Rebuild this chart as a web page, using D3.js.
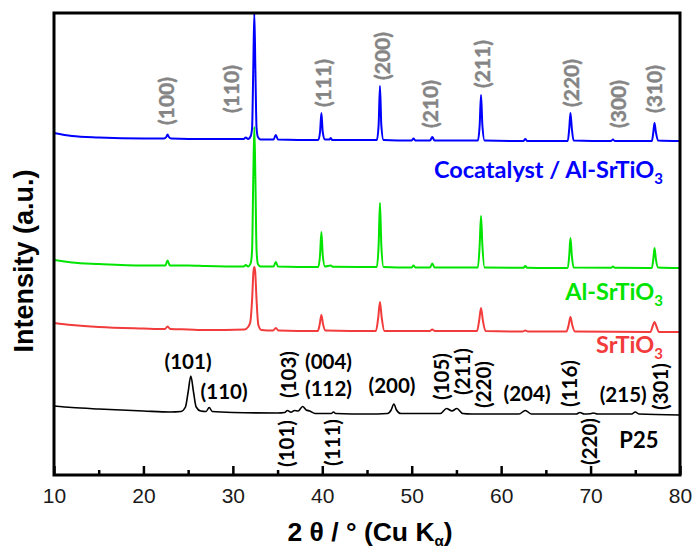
<!DOCTYPE html>
<html>
<head>
<meta charset="utf-8">
<script src="https://cdn.jsdelivr.net/npm/d3@7"></script>
<style>
  body { margin: 0; background: #fff; }
  svg { display: block; }
</style>
</head>
<body>
<svg id="chart" width="694" height="550"></svg>
<script>
// ---- XRD patterns: [2θ (deg), counts (a.u.)] before stacking ----
const patternP25 = [
  [10, 90], [12, 75], [15, 60], [20, 40], [23, 30], [24.2, 35], [24.7, 80], [25.0, 230],
  [25.3, 390], [25.6, 230], [25.9, 80], [26.4, 40], [27.0, 35], [27.35, 75], [27.7, 35],
  [30, 25], [35, 20], [35.8, 25], [36.1, 45], [36.5, 28], [36.9, 45], [37.3, 40],
  [37.8, 85], [38.2, 50], [38.6, 40], [39.2, 15], [41.0, 15], [41.25, 30], [41.5, 15],
  [45, 10], [47.3, 15], [47.7, 50], [48.0, 110], [48.3, 50], [48.8, 15], [53.2, 15],
  [53.9, 65], [54.5, 40], [55.05, 65], [55.7, 15], [56.7, 10], [62.0, 10], [62.7, 45],
  [63.4, 10], [68.4, 10], [68.8, 25], [69.3, 10], [69.9, 12], [70.3, 20], [70.8, 10],
  [74.6, 10], [75.0, 30], [75.4, 10], [80, 0]
];
const patternSrTiO3 = [
  [10, 90], [12, 70], [15, 50], [20, 35], [22.4, 30], [22.7, 55], [23.0, 30], [25, 25],
  [27, 20], [31.3, 25], [31.7, 50], [31.95, 100], [32.15, 320], [32.3, 600], [32.4, 650],
  [32.5, 600], [32.65, 320], [32.85, 70], [33.2, 20], [34.5, 15], [34.8, 40], [35.1, 15],
  [39.5, 10], [39.72, 80], [39.9, 170], [40.08, 80], [40.35, 15], [46.0, 10], [46.25, 140],
  [46.45, 300], [46.65, 140], [46.95, 10], [52.0, 10], [52.3, 25], [52.6, 10], [57.3, 10],
  [57.55, 120], [57.75, 240], [57.95, 120], [58.25, 10], [62.4, 5], [62.7, 15], [63.0, 5],
  [67.3, 5], [67.55, 70], [67.75, 150], [67.95, 70], [68.25, 5], [76.7, 0], [76.95, 60],
  [77.15, 100], [77.35, 60], [77.65, 0], [80, 0]
];
const patternAlSrTiO3 = [
  [10, 80], [12, 55], [15, 40], [20, 25], [22.45, 25], [22.7, 75], [22.95, 25], [25, 25],
  [27, 20], [31.2, 15], [31.45, 30], [31.7, 15], [32.0, 50], [32.15, 180], [32.28, 880],
  [32.4, 1410], [32.52, 880], [32.65, 180], [32.8, 40], [33.1, 15], [34.55, 15], [34.8, 60],
  [35.05, 15], [39.55, 10], [39.75, 130], [39.9, 360], [40.05, 130], [40.3, 15], [40.95, 25],
  [41.2, 12], [46.1, 10], [46.3, 230], [46.45, 650], [46.6, 230], [46.85, 10], [50.0, 5],
  [50.2, 25], [50.4, 5], [52.05, 5], [52.3, 45], [52.55, 5], [57.4, 5], [57.6, 230],
  [57.75, 520], [57.9, 230], [58.15, 5], [62.5, 2], [62.7, 20], [62.9, 2], [67.45, 0],
  [67.62, 130], [67.75, 300], [67.9, 130], [68.1, 5], [72.3, 2], [72.5, 15], [72.7, 2],
  [76.85, 0], [77.02, 90], [77.15, 200], [77.3, 90], [77.55, 5], [80, 0]
];
const patternCocatalyst = [
  [10, 80], [12, 50], [15, 35], [20, 25], [22.3, 25], [22.55, 40], [22.7, 65], [22.85, 40],
  [23.1, 25], [27, 20], [31.2, 20], [31.45, 35], [31.7, 20], [32.0, 50], [32.15, 130],
  [32.28, 710], [32.4, 1280], [32.52, 710], [32.65, 130], [32.8, 40], [33.1, 15], [34.55, 15],
  [34.8, 60], [35.05, 15], [39.55, 10], [39.75, 90], [39.9, 280], [40.05, 90], [40.3, 15],
  [40.8, 15], [40.95, 30], [41.1, 10], [46.1, 10], [46.3, 160], [46.45, 550], [46.6, 160],
  [46.85, 10], [50.0, 5], [50.2, 25], [50.4, 5], [52.05, 5], [52.3, 40], [52.55, 5],
  [57.4, 5], [57.6, 160], [57.75, 460], [57.9, 160], [58.15, 5], [62.5, 0], [62.7, 20],
  [62.9, 0], [67.45, 0], [67.62, 130], [67.75, 280], [67.9, 130], [68.1, 5], [72.3, 0],
  [72.5, 15], [72.7, 0], [76.85, 0], [77.02, 90], [77.15, 180], [77.3, 90], [77.55, 5], [80, 0]
];

// vertical offsets used to stack the patterns
const stackOffsets = [600, 1430, 2070, 3340];
const sampleNames = ["P25", "SrTiO", "Al-SrTiO", "Cocatalyst / Al-SrTiO"];
const sampleSubscripts = ["", "3", "3", "3"];
const sampleColors = ["#000000", "#f23c3c", "#00e400", "#0000ff"];

// reflection indices
const perovskiteHkl = ["(100)", "(110)", "(111)", "(200)", "(210)", "(211)", "(220)", "(300)", "(310)"];
const titaniaHklFlat = ["(101)", "(110)", "(004)", "(112)", "(200)", "(204)", "(215)"];
const titaniaHklUpright = ["(103)", "(101)", "(111)", "(105)", "(211)", "(220)", "(116)", "(301)", "(220)"];

// axis ticks
const majorTicks = [10, 20, 30, 40, 50, 60, 70, 80];
const minorTicks = [15, 25, 35, 45, 55, 65, 75];

// ---- layout ----
const plot = { left: 54, right: 680, top: 13, bottom: 475 };
const svg = d3.select("#chart");

const x = d3.scaleLinear().domain([10, 80]).range([plot.left, plot.right]);
const y = d3.scaleLinear().domain([0, 4620]).range([plot.bottom, plot.top]);

const labelFont = "Lato, 'Open Sans', sans-serif";

// patterns (drawn bottom to top so the upper traces sit over the lower ones)
const patterns = [patternP25, patternSrTiO3, patternAlSrTiO3, patternCocatalyst];
const lineWidths = [1.6, 2, 2, 2];
patterns.forEach((pts, i) => {
  const line = d3.line()
    .x(d => x(d[0]))
    .y(d => y(d[1] + stackOffsets[i]))
    .curve(d3.curveMonotoneX);
  svg.append("path")
    .datum(pts)
    .attr("d", line)
    .attr("fill", "none")
    .attr("stroke", sampleColors[i])
    .attr("stroke-width", lineWidths[i])
    .attr("stroke-linejoin", "round");
});

// sample names, right aligned inside the frame
const nameDy = [0, 21, 32, 37];
sampleNames.forEach((name, i) => {
  if (i === 0) return;
  const t = svg.append("text")
    .attr("x", plot.right - 17)
    .attr("y", y(stackOffsets[i]) + nameDy[i])
    .attr("text-anchor", "end")
    .attr("font-family", labelFont)
    .attr("font-weight", "bold")
    .attr("font-size", 23.5)
    .attr("fill", sampleColors[i]);
  t.append("tspan").text(name);
  t.append("tspan").attr("font-size", 15).attr("dy", 6).text(sampleSubscripts[i]);
});
svg.append("text")
  .attr("x", x(75.4))
  .attr("y", 448)
  .attr("text-anchor", "middle")
  .attr("font-family", labelFont)
  .attr("font-weight", "bold")
  .attr("font-size", 22)
  .attr("fill", "#000")
  .text(sampleNames[0]);

// perovskite reflections (grey, vertical): [centre angle, bottom y]
const perovskitePlace = [[22.64, 125], [29.9, 113], [40.1, 107], [46.7, 80], [52.1, 128],
                         [57.9, 88], [67.9, 107], [73.1, 128], [77.2, 113]];
perovskiteHkl.forEach((hkl, i) => {
  const [a, by] = perovskitePlace[i];
  svg.append("text")
    .attr("transform", `translate(${x(a)},${by}) rotate(-90)`)
    .attr("dy", "0.35em")
    .attr("font-family", labelFont)
    .attr("font-weight", "bold")
    .attr("font-size", 21)
    .attr("fill", "#858585")
    .attr("stroke", "#858585")
    .attr("stroke-width", 0.4)
    .text(hkl);
});

// titania reflections, horizontal: [centre angle, baseline y]
const flatPlace = [[24.99, 369], [29.02, 399], [40.7, 369], [40.7, 396], [47.8, 393], [62.9, 401], [73.65, 402]];
titaniaHklFlat.forEach((hkl, i) => {
  const [a, by] = flatPlace[i];
  svg.append("text")
    .attr("x", x(a))
    .attr("y", by)
    .attr("text-anchor", "middle")
    .attr("font-family", labelFont)
    .attr("font-weight", "bold")
    .attr("font-size", 20.5)
    .attr("fill", "#000")
    .text(hkl);
});

// titania reflections, vertical: [centre angle, bottom y]
const uprightPlace = [[36.3, 398], [36.06, 467], [41.2, 466], [53.4, 400], [55.75, 395],
                      [58.1, 408], [67.7, 407], [77.8, 410], [69.95, 465]];
titaniaHklUpright.forEach((hkl, i) => {
  const [a, by] = uprightPlace[i];
  svg.append("text")
    .attr("transform", `translate(${x(a)},${by}) rotate(-90)`)
    .attr("dy", "0.35em")
    .attr("font-family", labelFont)
    .attr("font-weight", "bold")
    .attr("font-size", 20.5)
    .attr("fill", "#000")
    .text(hkl);
});

// x axis: inward major ticks with labels, shorter inward minor ticks
const axisMajor = d3.axisBottom(x).tickValues(majorTicks).tickFormat(d3.format("d"))
  .tickSizeInner(-9).tickSizeOuter(0).tickPadding(13);
const gMajor = svg.append("g").attr("transform", `translate(0,${plot.bottom})`).call(axisMajor);
gMajor.select(".domain").remove();
gMajor.selectAll(".tick line").attr("stroke", "#000").attr("stroke-width", 2.5);
gMajor.selectAll(".tick text")
  .attr("font-family", "'Liberation Sans', Arial, sans-serif")
  .attr("font-size", 21)
  .attr("fill", "#1a1a1a");

const axisMinor = d3.axisBottom(x).tickValues(minorTicks).tickFormat("")
  .tickSizeInner(-5).tickSizeOuter(0);
const gMinor = svg.append("g").attr("transform", `translate(0,${plot.bottom})`).call(axisMinor);
gMinor.select(".domain").remove();
gMinor.selectAll(".tick line").attr("stroke", "#000").attr("stroke-width", 2.5);

// frame
svg.append("rect")
  .attr("x", plot.left).attr("y", plot.top)
  .attr("width", plot.right - plot.left).attr("height", plot.bottom - plot.top)
  .attr("fill", "none").attr("stroke", "#000").attr("stroke-width", 3);

// axis titles
const xTitle = svg.append("text")
  .attr("x", 370).attr("y", 541)
  .attr("text-anchor", "middle")
  .attr("font-family", "'Liberation Sans', Arial, sans-serif")
  .attr("font-weight", "bold")
  .attr("font-size", 26.5)
  .attr("fill", "#000");
xTitle.append("tspan").text("2 θ / ° (Cu K");
xTitle.append("tspan").attr("font-size", 15).attr("dy", 5).text("α");
xTitle.append("tspan").attr("dy", -5).text(")");

svg.append("text")
  .attr("transform", `translate(33,261) rotate(-90)`)
  .attr("text-anchor", "middle")
  .attr("font-family", "'Liberation Sans', Arial, sans-serif")
  .attr("font-weight", "bold")
  .attr("font-size", 27)
  .attr("fill", "#000")
  .text("Intensity (a.u.)");
</script>
</body>
</html>
